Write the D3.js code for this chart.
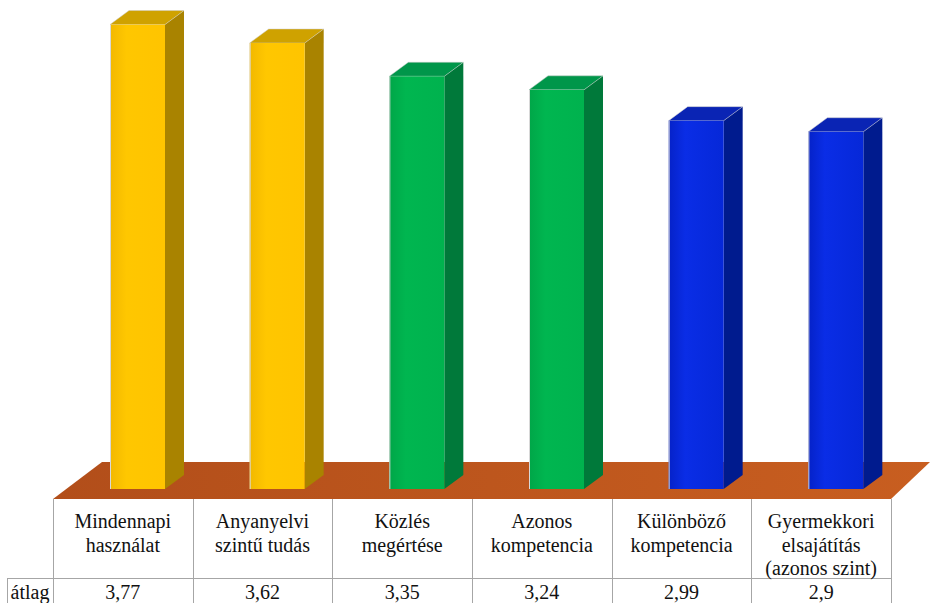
<!DOCTYPE html>
<html>
<head>
<meta charset="utf-8">
<script src="https://cdn.jsdelivr.net/npm/d3@7"></script>
<style>
  body { margin: 0; background: #fff; }
</style>
</head>
<body>
<script>
// chart data
var categories = ["Mindennapi használat", "Anyanyelvi szintű tudás", "Közlés megértése",
                  "Azonos kompetencia", "Különböző kompetencia", "Gyermekkori elsajátítás (azonos szint)"];
var labelLines = [["Mindennapi", "használat"], ["Anyanyelvi", "szintű tudás"], ["Közlés", "megértése"],
                  ["Azonos", "kompetencia"], ["Különböző", "kompetencia"], ["Gyermekkori", "elsajátítás", "(azonos szint)"]];
var values = [3.77, 3.62, 3.35, 3.24, 2.99, 2.9];
var valueLabels = ["3,77", "3,62", "3,35", "3,24", "2,99", "2,9"];
var rowLabel = "átlag";
var groups = ["a", "a", "b", "b", "c", "c"];

var W = 930, H = 603;
var tableLeft = 53, tableRight = 891;
var floorFront = 499, floorBack = 462;
var base = 489;          // bottom of bar fronts
var barOff = 57, barW = 55, dx = 19, dy = 14;
var serif = "'Liberation Serif', Tinos, 'Nimbus Roman', 'Nimbus Roman No9 L', FreeSerif, 'DejaVu Serif', Times, serif";
var fs = 20;

var svg = d3.select("body").append("svg")
  .attr("width", W)
  .attr("height", H);

var x = d3.scaleBand()
  .domain(categories)
  .range([tableLeft, tableRight])
  .padding(0);

var y = d3.scaleLinear()
  .domain([0, 4])
  .range([base, base - 4 * 123.2]);

var palette = {
  a: {front: ["#F2B800", "#FFC700", "#FFC400"], side: "#A98300", top: "#CFA200"},
  b: {front: ["#00A648", "#00B650", "#00B24E"], side: "#00793A", top: "#00964A"},
  c: {front: ["#0522C8", "#0A2DE6", "#0628D8"], side: "#001B8E", top: "#0A24B4"}
};

var defs = svg.append("defs");
Object.keys(palette).forEach(function(k) {
  var g = defs.append("linearGradient").attr("id", "front-" + k)
    .attr("x1", "0").attr("x2", "1").attr("y1", "0").attr("y2", "0");
  g.append("stop").attr("offset", "0").attr("stop-color", palette[k].front[0]);
  g.append("stop").attr("offset", "0.3").attr("stop-color", palette[k].front[1]);
  g.append("stop").attr("offset", "1").attr("stop-color", palette[k].front[2]);
});
var fg = defs.append("linearGradient").attr("id", "floor")
  .attr("x1", "0").attr("x2", "1").attr("y1", "0").attr("y2", "0");
fg.append("stop").attr("offset", "0").attr("stop-color", "#B24E1A");
fg.append("stop").attr("offset", "1").attr("stop-color", "#C85E20");

// floor
svg.append("path")
  .attr("d", "M" + tableLeft + "," + floorFront + "L" + (tableLeft + 49) + "," + floorBack +
             "L" + W + "," + floorBack + "L" + tableRight + "," + floorFront + "Z")
  .attr("fill", "url(#floor)");

// bars
var bars = svg.selectAll("g.bar")
  .data(values)
  .enter().append("g")
  .attr("class", "bar");

bars.append("path") // side
  .attr("d", function(d, i) {
    var x1 = x(categories[i]) + barOff + barW, yt = y(d);
    return "M" + x1 + "," + yt + "L" + (x1 + dx) + "," + (yt - dy) +
           "L" + (x1 + dx) + "," + (base - dy) + "L" + x1 + "," + base + "Z";
  })
  .attr("fill", function(d, i) { return palette[groups[i]].side; });

bars.append("path") // top
  .attr("d", function(d, i) {
    var x0 = x(categories[i]) + barOff, yt = y(d);
    return "M" + x0 + "," + yt + "L" + (x0 + dx) + "," + (yt - dy) +
           "L" + (x0 + barW + dx) + "," + (yt - dy) + "L" + (x0 + barW) + "," + yt + "Z";
  })
  .attr("fill", function(d, i) { return palette[groups[i]].top; })
  .attr("stroke", "#ccc").attr("stroke-width", 0.5);

bars.append("rect") // front
  .attr("x", function(d, i) { return x(categories[i]) + barOff; })
  .attr("y", function(d) { return y(d); })
  .attr("width", barW)
  .attr("height", function(d) { return base - y(d); })
  .attr("fill", function(d, i) { return "url(#front-" + groups[i] + ")"; });

bars.append("line")
  .attr("x1", function(d, i) { return x(categories[i]) + barOff + 0.5; })
  .attr("x2", function(d, i) { return x(categories[i]) + barOff + 0.5; })
  .attr("y1", function(d) { return y(d); })
  .attr("y2", base)
  .attr("stroke", "#d8d8d8").attr("stroke-width", 1);

// table grid
var grid = svg.append("g").attr("stroke", "#A6A6A6").attr("stroke-width", 1);
var bounds = categories.map(function(c) { return x(c); }).concat([tableRight]);
grid.selectAll("line.v")
  .data(bounds)
  .enter().append("line")
  .attr("x1", function(d) { return Math.round(d) + 0.5; })
  .attr("x2", function(d) { return Math.round(d) + 0.5; })
  .attr("y1", floorFront)
  .attr("y2", H);
grid.append("line")
  .attr("x1", 7).attr("x2", tableRight + 0.5)
  .attr("y1", 578.5).attr("y2", 578.5);
grid.append("line")
  .attr("x1", 7.5).attr("x2", 7.5)
  .attr("y1", 578).attr("y2", H);

// category labels
var labels = svg.selectAll("text.cat")
  .data(labelLines)
  .enter().append("text")
  .attr("class", "cat")
  .attr("text-anchor", "middle")
  .attr("font-family", serif)
  .attr("font-size", fs)
  .attr("fill", "#111");
labels.selectAll("tspan")
  .data(function(d, i) { return d.map(function(t) { return {t: t, i: i}; }); })
  .enter().append("tspan")
  .attr("x", function(d) { return x(categories[d.i]) + x.bandwidth() / 2; })
  .attr("y", function(d, j) { return 528 + j * 23.5; })
  .text(function(d) { return d.t; });

// value row
svg.selectAll("text.val")
  .data(valueLabels)
  .enter().append("text")
  .attr("class", "val")
  .attr("text-anchor", "middle")
  .attr("font-family", serif)
  .attr("font-size", fs)
  .attr("fill", "#111")
  .attr("x", function(d, i) { return x(categories[i]) + x.bandwidth() / 2; })
  .attr("y", 599)
  .text(function(d) { return d; });

svg.append("text")
  .attr("x", 30)
  .attr("y", 599)
  .attr("text-anchor", "middle")
  .attr("font-family", serif)
  .attr("font-size", fs)
  .attr("fill", "#111")
  .text(rowLabel);
</script>
</body>
</html>
